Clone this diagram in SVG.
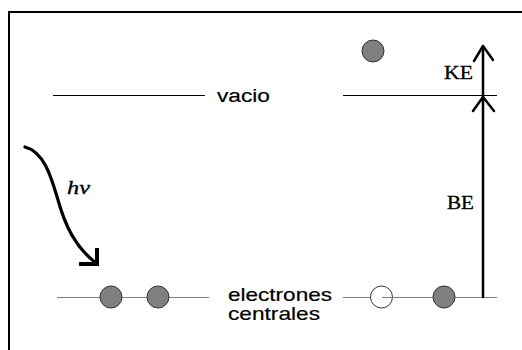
<svg xmlns="http://www.w3.org/2000/svg" width="522" height="350" viewBox="0 0 522 350">
<style>
.frame{stroke:#000;stroke-width:2;fill:none}
.vac{stroke:#000;stroke-width:1;fill:none}
.core{stroke:#808080;stroke-width:1;fill:none}
.el{fill:#7f7f7f;stroke:#333;stroke-width:1}
.hole{fill:#fff;stroke:#333;stroke-width:1}
.sans{font-family:"Liberation Sans",Arial,sans-serif;fill:#000;stroke:#000;stroke-width:0.2}
.serif{font-family:"Liberation Serif","Times New Roman",serif;fill:#000;stroke:#000;stroke-width:0.3}
.arr{stroke:#000;stroke-width:2.5;fill:none;stroke-linecap:round;stroke-linejoin:round}
</style>
<rect width="522" height="350" fill="#fff"/>
<path class="frame" d="M9,350 V12 H522"/>
<g id="vacuum">
<line class="vac" x1="53" y1="95.5" x2="205" y2="95.5"/>
<line class="vac" x1="343" y1="95.5" x2="497" y2="95.5"/>
<text class="sans" x="217" y="102" font-size="18" textLength="53" lengthAdjust="spacingAndGlyphs">vacio</text>
</g>
<g id="core">
<line class="core" x1="57" y1="297.5" x2="209" y2="297.5"/>
<line class="core" x1="343" y1="297.5" x2="370" y2="297.5"/>
<circle class="el" cx="111" cy="297" r="11"/>
<circle class="el" cx="158" cy="297" r="11"/>
<circle class="hole" cx="381.5" cy="297" r="11"/>
<line class="core" x1="382" y1="297.5" x2="497" y2="297.5"/>
<circle class="el" cx="444" cy="297" r="11"/>
<text class="sans" x="228" y="301" font-size="19" textLength="104" lengthAdjust="spacingAndGlyphs">electrones</text>
<text class="sans" x="228" y="320" font-size="19" textLength="92" lengthAdjust="spacingAndGlyphs">centrales</text>
</g>
<g id="emitted">
<circle class="el" cx="373" cy="51" r="11"/>
</g>
<g id="connectors">
<line class="arr" x1="483" y1="297" x2="483" y2="46"/>
<path class="arr" d="M474,61 L483,46 L493,60"/>
<path class="arr" d="M473,111 L483,97 L494,111"/>
<path d="M25,147 C45,152 52,180 58,200 C65,225 75,247 96,263" stroke="#000" stroke-width="3.2" fill="none" stroke-linecap="round"/>
<path d="M97,248 V264 H79" stroke="#000" stroke-width="4" fill="none"/>
</g>
<g id="labels">
<text class="serif" x="444" y="79" font-size="19" textLength="29" lengthAdjust="spacingAndGlyphs">KE</text>
<text class="serif" x="447" y="209" font-size="19" textLength="27" lengthAdjust="spacingAndGlyphs">BE</text>
<text class="serif" x="67" y="194" font-size="19" font-style="italic" textLength="23" lengthAdjust="spacingAndGlyphs">hν</text>
</g>
</svg>
